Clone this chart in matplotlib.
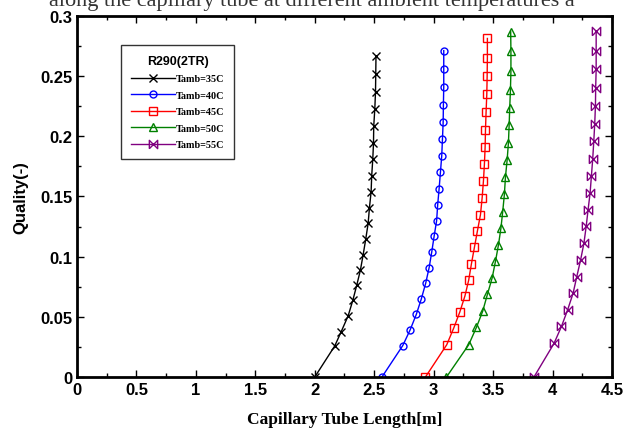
import numpy as np
import matplotlib
matplotlib.use('Agg')
import matplotlib.pyplot as plt
from matplotlib.ticker import MultipleLocator

# Quality vs capillary tube length, R290 (2TR)
x_35 = [2.00, 2.168, 2.222, 2.281, 2.320, 2.353, 2.384, 2.407, 2.429, 2.449,
        2.460, 2.474, 2.479, 2.488, 2.494, 2.496, 2.505, 2.511, 2.513, 2.515]
q_35 = [0.0, 0.0258, 0.0376, 0.0509, 0.0637, 0.0762, 0.0889, 0.1016, 0.1147, 0.1277,
        0.1407, 0.1540, 0.1673, 0.1812, 0.1942, 0.2083, 0.2227, 0.2371, 0.2520, 0.2670]

x_40 = [2.565, 2.740, 2.802, 2.854, 2.896, 2.933, 2.962, 2.984, 3.004, 3.025,
        3.034, 3.046, 3.057, 3.068, 3.074, 3.080, 3.082, 3.085, 3.085, 3.085]
q_40 = [0.0, 0.0261, 0.0391, 0.0520, 0.0648, 0.0779, 0.0909, 0.1039, 0.1170, 0.1299,
        0.1432, 0.1565, 0.1701, 0.1837, 0.1975, 0.2117, 0.2263, 0.2410, 0.2560, 0.2712]

x_45 = [2.931, 3.110, 3.169, 3.220, 3.263, 3.295, 3.318, 3.343, 3.368, 3.394,
        3.408, 3.419, 3.427, 3.433, 3.436, 3.441, 3.447, 3.450, 3.452, 3.452]
q_45 = [0.0, 0.0268, 0.0407, 0.0540, 0.0673, 0.0806, 0.0942, 0.1078, 0.1213, 0.1350,
        0.1490, 0.1631, 0.1770, 0.1909, 0.2053, 0.2200, 0.2348, 0.2499, 0.2654, 0.2813]

x_50 = [3.108, 3.295, 3.360, 3.413, 3.452, 3.492, 3.520, 3.545, 3.566, 3.581,
        3.595, 3.604, 3.618, 3.629, 3.635, 3.640, 3.646, 3.650, 3.650, 3.648]
q_50 = [0.0, 0.0268, 0.0413, 0.0548, 0.0686, 0.0823, 0.0961, 0.1097, 0.1238, 0.1375,
        0.1518, 0.1662, 0.1802, 0.1946, 0.2092, 0.2238, 0.2388, 0.2543, 0.2705, 0.2869]

x_55 = [3.844, 4.013, 4.075, 4.127, 4.173, 4.204, 4.236, 4.264, 4.283, 4.299,
        4.316, 4.327, 4.338, 4.347, 4.355, 4.361, 4.363, 4.367, 4.367, 4.367]
q_55 = [0.0, 0.0280, 0.0420, 0.0558, 0.0696, 0.0834, 0.0972, 0.1111, 0.1251, 0.1389,
        0.1529, 0.1670, 0.1812, 0.1959, 0.2105, 0.2255, 0.2404, 0.2557, 0.2712, 0.2871]

labels = ['Tamb=35C', 'Tamb=40C', 'Tamb=45C', 'Tamb=50C', 'Tamb=55C']

# bowtie marker for the 55C series
bowtie = [(-1, -1), (-1, 1), (1, -1), (1, 1), (-1, -1)]

fig = plt.figure(figsize=(6.23, 4.35), dpi=100)
ax = fig.add_axes([0.1236, 0.131, 0.8587, 0.830])

# caption of the page, cut off at the top of the picture
fig.text(0.5, 1 - 6 / 435, 'along the capillary tube at different ambient temperatures a',
         ha='center', va='baseline', fontsize=16, family='Liberation Serif', color='#333333')

ax.plot(x_35, q_35, color='black', lw=1, marker='x', ms=6, mew=1, label=labels[0])
ax.plot(x_40, q_40, color='blue', lw=1, marker='o', ms=5, mfc='none', mew=1, label=labels[1])
ax.plot(x_45, q_45, color='red', lw=1, marker='s', ms=6, mfc='none', mew=1, label=labels[2])
ax.plot(x_50, q_50, color='green', lw=1, marker='^', ms=6, mfc='none', mew=1, label=labels[3])
ax.plot(x_55, q_55, color='purple', lw=1, marker=bowtie, ms=6, mfc='none', mew=1, label=labels[4])

ax.set_xlim(0, 4.5)
ax.set_ylim(0, 0.3)
ax.xaxis.set_major_locator(MultipleLocator(0.5))
ax.xaxis.set_minor_locator(MultipleLocator(0.25))
ax.yaxis.set_major_locator(MultipleLocator(0.05))
ax.yaxis.set_minor_locator(MultipleLocator(0.025))
ax.xaxis.set_major_formatter(plt.FuncFormatter(lambda v, p: '%g' % v))
ax.yaxis.set_major_formatter(plt.FuncFormatter(lambda v, p: '%g' % v))
ax.tick_params(which='both', direction='in', top=True, right=True, width=1)
ax.tick_params(which='major', length=5)
ax.tick_params(which='minor', length=3)
for lab in ax.get_xticklabels() + ax.get_yticklabels():
    lab.set_family('Liberation Sans')
    lab.set_fontweight('bold')
    lab.set_fontsize(12)
for sp in ax.spines.values():
    sp.set_linewidth(2)

ax.set_xlabel('Capillary Tube Length[m]', family='Liberation Serif', fontweight='bold',
              fontsize=12.5, labelpad=10)
ax.set_ylabel('Quality(-)', family='Liberation Sans', fontweight='bold', fontsize=12,
              labelpad=8)

leg = ax.legend(title='R290(2TR)', loc='upper left', bbox_to_anchor=(0.0822, 0.9197),
                borderaxespad=0, handlelength=4.3, handletextpad=0.1, labelspacing=0.72,
                borderpad=1.0, fancybox=False, edgecolor='black',
                prop={'family': 'Liberation Serif', 'weight': 'bold', 'size': 7.3})
leg.get_title().set_family('Liberation Sans')
leg.get_title().set_fontweight('bold')
leg.get_title().set_fontsize(9)
leg.get_frame().set_linewidth(1)

fig.savefig('out.png', dpi=100)
